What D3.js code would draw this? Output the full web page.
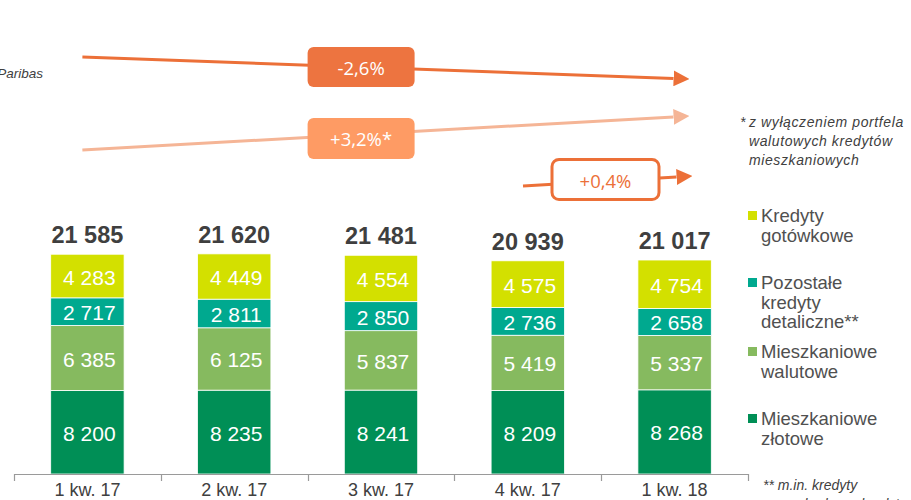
<!DOCTYPE html>
<html><head><meta charset="utf-8">
<script src="https://cdn.jsdelivr.net/npm/d3@7/dist/d3.min.js"></script>
<style>
html,body{margin:0;padding:0;background:#fff;}
svg{display:block;font-family:"Liberation Sans",Arial,sans-serif;}
</style></head><body>
<svg id="c" width="911" height="500"></svg>
<script>
const categories = ["1 kw. 17","2 kw. 17","3 kw. 17","4 kw. 17","1 kw. 18"];
const zlotowe   = [8200, 8235, 8241, 8209, 8268];
const walutowe  = [6385, 6125, 5837, 5419, 5337];
const pozostale = [2717, 2811, 2850, 2736, 2658];
const gotowkowe = [4283, 4449, 4554, 4575, 4754];
const totals    = [21585, 21620, 21481, 20939, 21017];
const seriesNames = ["Mieszkaniowe złotowe","Mieszkaniowe walutowe","Pozostałe kredyty detaliczne**","Kredyty gotówkowe"];
const seriesColors = ["#008f56","#86ba5f","#00a98f","#d3e000"];
const legendLines = [["Kredyty","gotówkowe"],["Pozostałe","kredyty","detaliczne**"],["Mieszkaniowe","walutowe"],["Mieszkaniowe","złotowe"]];
const changeLabels = ["-2,6%","+3,2%*","+0,4%"];
const footnote1 = ["z wyłączeniem portfela","walutowych kredytów","mieszkaniowych"];
const footnote2 = ["**  m.in. kredyty","samochodowe, kredyty"];

const svg = d3.select("#c");
const fmt = d3.formatLocale({thousands:"\u00a0", grouping:[3], decimal:",", currency:["",""]}).format(",d");

const x = d3.scaleBand().domain(categories).range([14, 748]).paddingInner(0.5).paddingOuter(0.25);
const y = d3.scaleLinear().domain([0, 22000]).range([474, 250]);

const rows = categories.map((c,i)=>({cat:c, s0:zlotowe[i], s1:walutowe[i], s2:pozostale[i], s3:gotowkowe[i]}));
const stack = d3.stack().keys(["s0","s1","s2","s3"])(rows);

const g = svg.append("g");
stack.forEach((layer, k) => {
  layer.forEach((d, i) => {
    const cx = x(categories[i]);
    g.append("rect").attr("x", cx).attr("width", x.bandwidth())
      .attr("y", y(d[1])).attr("height", y(d[0]) - y(d[1]))
      .attr("fill", seriesColors[k]).attr("stroke", "#fff").attr("stroke-width", 0.8);
    g.append("text").attr("x", cx + x.bandwidth()/2 + 2).attr("y", (y(d[0]) + y(d[1]))/2 + 1)
      .attr("text-anchor","middle").attr("dominant-baseline","central")
      .attr("fill","#fff").attr("font-size", 21).text(fmt(d[1]-d[0]));
  });
});
// totals
categories.forEach((c,i)=>{
  const top = y(stack[3][i][1]);
  svg.append("text").attr("x", x(c)+x.bandwidth()/2).attr("y", top-11)
    .attr("text-anchor","middle").attr("font-weight","bold").attr("font-size",23.5)
    .attr("fill","#3f3f3f").text(fmt(totals[i]));
});
// axis
const x0 = x.range()[0], x1 = x.range()[1];
svg.append("line").attr("x1",x0).attr("x2",x1).attr("y1",474.5).attr("y2",474.5).attr("stroke","#9a9a9a").attr("stroke-width",1.2);
d3.range(categories.length+1).forEach(i=>{
  const tx = Math.round(x0 + i*x.step()) + 0.5;
  svg.append("line").attr("x1",tx).attr("x2",tx).attr("y1",474).attr("y2",481).attr("stroke","#9a9a9a").attr("stroke-width",1.2);
});
categories.forEach(c=>{
  svg.append("text").attr("x", x(c)+x.bandwidth()/2).attr("y", 496)
    .attr("text-anchor","middle").attr("font-size",18).attr("fill","#404040").text(c);
});

// legend
const legBase = [222, 289, 358, 425];
legendLines.forEach((lines, k)=>{
  const colorIdx = 3-k;
  svg.append("rect").attr("x",748).attr("y",legBase[k]-11).attr("width",9).attr("height",9).attr("fill",seriesColors[colorIdx]);
  lines.forEach((t,j)=>{
    svg.append("text").attr("x",761).attr("y",legBase[k]+j*19.5).attr("font-size",18.5).attr("fill","#505050").text(t);
  });
});

// footnotes
svg.append("text").attr("x",740).attr("y",127).attr("font-size",14).attr("font-style","italic").attr("fill","#404040").text("*");
footnote1.forEach((t,j)=>{
  svg.append("text").attr("x",749).attr("y",127+j*19).attr("font-size",14).attr("font-style","italic")
    .attr("letter-spacing",0.6).attr("fill","#404040").text(t);
});
footnote2.forEach((t,j)=>{
  svg.append("text").attr("x",763).attr("y",490+j*19).attr("font-size",14).attr("font-style","italic")
    .attr("fill","#404040").text(t);
});
svg.append("text").attr("x",43).attr("y",78).attr("text-anchor","end").attr("font-size",13.5).attr("font-style","italic").attr("fill","#404040").text("Paribas");

// change arrows
const defs = svg.append("defs");
function marker(id, color){
  defs.append("marker").attr("id",id).attr("viewBox","0 0 10 10").attr("refX",0).attr("refY",5)
    .attr("markerWidth",5.3).attr("markerHeight",5.3).attr("markerUnits","strokeWidth").attr("orient","auto")
    .append("path").attr("d","M0,0L10,5L0,10Z").attr("fill",color);
}
marker("mA","#ec7038"); marker("mB","#f5b596");
const cFirst = x(categories[0]) + x.bandwidth()/2 - 5;
const cLast = x(categories[4]) + x.bandwidth()/2 + 15;
const boxX = x0 + 2*x.step(); // box spanning ~307..414
function arrow(xa, ya, xb, yb, color, m){
  svg.append("line").attr("x1",xa).attr("y1",ya).attr("x2",xb-16).attr("y2",yb - (yb-ya)*16/(xb-xa))
    .attr("stroke",color).attr("stroke-width",3).attr("marker-end",`url(#${m})`);
}
arrow(cFirst, 57, cLast, 79, "#ec7038", "mA");
arrow(cFirst, 150, cLast, 116, "#f5b596", "mB");
arrow(523, 186, cLast+3, 176, "#ec7038", "mA");

svg.append("rect").attr("x",boxX).attr("y",47).attr("width",107).attr("height",40).attr("rx",6).attr("fill","#ed7440");
svg.append("text").attr("x",boxX+53.5).attr("y",67).attr("text-anchor","middle").attr("dominant-baseline","central")
  .attr("font-family","'Open Sans',sans-serif").attr("font-size",18.5).attr("fill","#fff").text(changeLabels[0]);
svg.append("rect").attr("x",boxX).attr("y",118).attr("width",107).attr("height",41).attr("rx",6).attr("fill","#fe9b64");
svg.append("text").attr("x",boxX+53.5).attr("y",138.5).attr("text-anchor","middle").attr("dominant-baseline","central")
  .attr("font-family","'Open Sans',sans-serif").attr("font-size",18.5).attr("fill","#fff").text(changeLabels[1]);
svg.append("rect").attr("x",552).attr("y",159.5).attr("width",107).attr("height",40).attr("rx",7).attr("fill","#fff")
  .attr("stroke","#ec7038").attr("stroke-width",3);
svg.append("text").attr("x",605.5).attr("y",180).attr("text-anchor","middle").attr("dominant-baseline","central")
  .attr("font-family","'Open Sans',sans-serif").attr("font-size",18.5).attr("fill","#ec7038").text(changeLabels[2]);
</script>
</body></html>
